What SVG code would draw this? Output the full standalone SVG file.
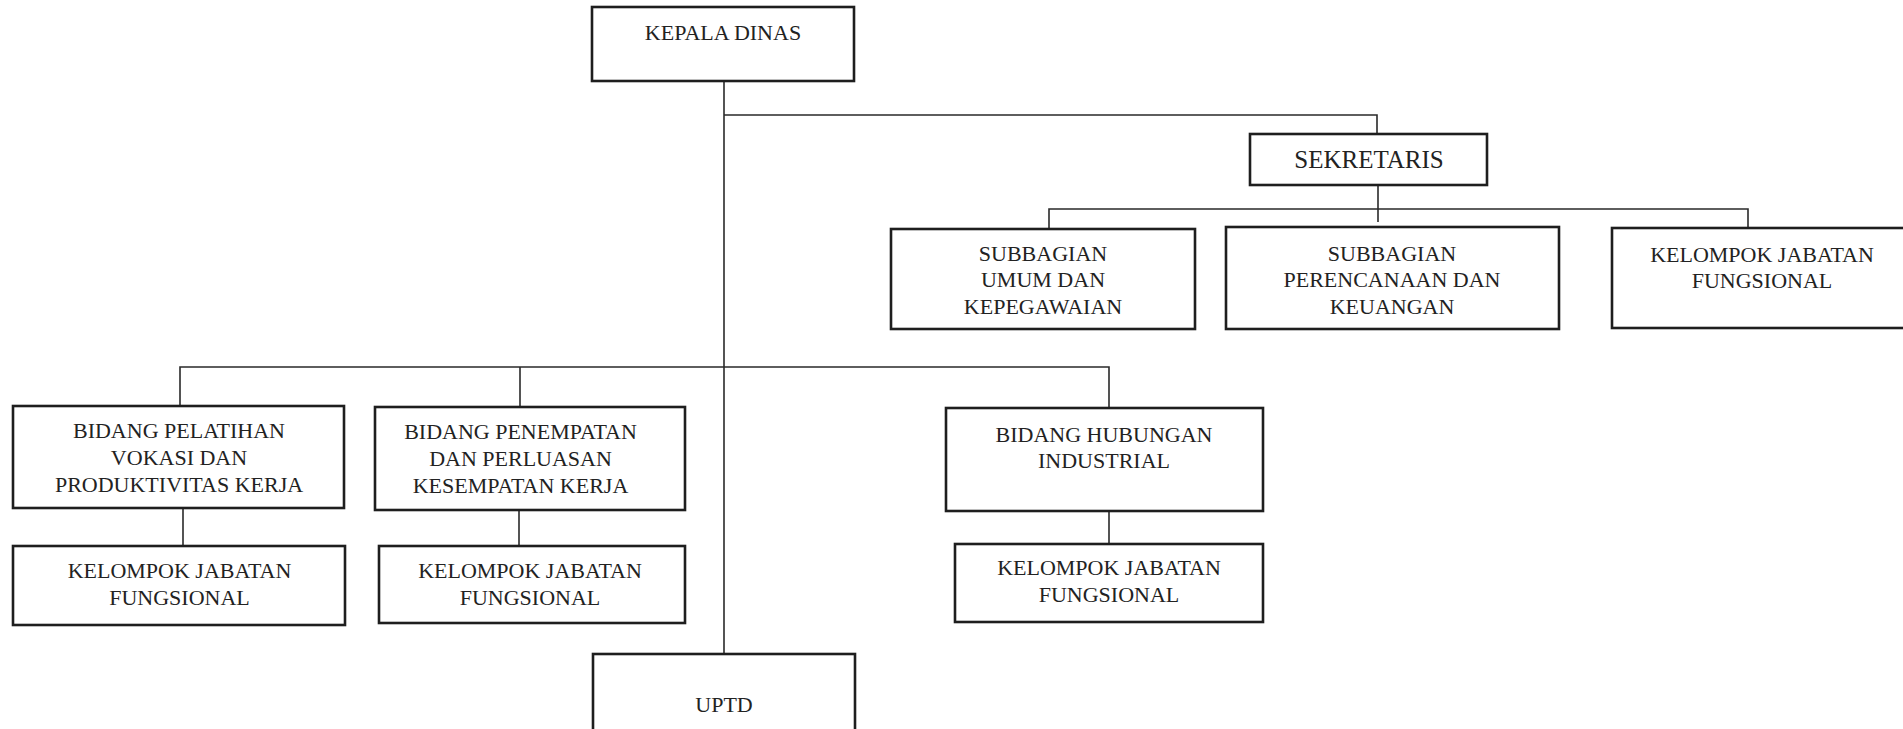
<svg xmlns="http://www.w3.org/2000/svg" width="1903" height="729" viewBox="0 0 1903 729">
<style>
.box{fill:#fff;stroke:#1e1e1e;stroke-width:2.6}
.t{font-family:"Liberation Serif","Times New Roman",serif;font-size:22px;fill:#222;text-anchor:middle}
.big{font-size:25px}
#connectors path{fill:none;stroke:#2a2a2a;stroke-width:1.6}
</style>
<rect width="1903" height="729" fill="#fff"/>
<g id="connectors">
<path d="M724,81V654"/>
<path d="M724,115H1377V134"/>
<path d="M1378,185V222"/>
<path d="M1049,229V209H1748V228"/>
<path d="M180,406V367H1109V408"/>
<path d="M520,367V407"/>
<path d="M183,508V546"/>
<path d="M519,510V546"/>
<path d="M1109,511V544"/>
</g>
<g id="kepala-dinas">
<rect class="box" x="592" y="7" width="262" height="74"/>
<text class="t" x="723" y="40">KEPALA DINAS</text>
</g>
<g id="sekretaris">
<rect class="box" x="1250" y="134" width="237" height="51"/>
<text class="t big" x="1369" y="168">SEKRETARIS</text>
</g>
<g id="subbagian-umum">
<rect class="box" x="891" y="229" width="304" height="100"/>
<text class="t" x="1043" y="261">SUBBAGIAN</text>
<text class="t" x="1043" y="287">UMUM DAN</text>
<text class="t" x="1043" y="314">KEPEGAWAIAN</text>
</g>
<g id="subbagian-perencanaan">
<rect class="box" x="1226" y="227" width="333" height="102"/>
<text class="t" x="1392" y="261">SUBBAGIAN</text>
<text class="t" x="1392" y="287">PERENCANAAN DAN</text>
<text class="t" x="1392" y="314">KEUANGAN</text>
</g>
<g id="kelompok-sekretariat">
<rect class="box" x="1612" y="228" width="300" height="100"/>
<text class="t" x="1762" y="262">KELOMPOK JABATAN</text>
<text class="t" x="1762" y="288">FUNGSIONAL</text>
</g>
<g id="bidang-pelatihan">
<rect class="box" x="13" y="406" width="331" height="102"/>
<text class="t" x="179" y="438">BIDANG PELATIHAN</text>
<text class="t" x="179" y="465">VOKASI DAN</text>
<text class="t" x="179" y="492">PRODUKTIVITAS KERJA</text>
</g>
<g id="kelompok-pelatihan">
<rect class="box" x="13" y="546" width="332" height="79"/>
<text class="t" x="179.5" y="578">KELOMPOK JABATAN</text>
<text class="t" x="179.5" y="605">FUNGSIONAL</text>
</g>
<g id="bidang-penempatan">
<rect class="box" x="375" y="407" width="310" height="103"/>
<text class="t" x="520.5" y="439">BIDANG PENEMPATAN</text>
<text class="t" x="520.5" y="466">DAN PERLUASAN</text>
<text class="t" x="520.5" y="493">KESEMPATAN KERJA</text>
</g>
<g id="kelompok-penempatan">
<rect class="box" x="379" y="546" width="306" height="77"/>
<text class="t" x="530" y="578">KELOMPOK JABATAN</text>
<text class="t" x="530" y="605">FUNGSIONAL</text>
</g>
<g id="bidang-hubungan">
<rect class="box" x="946" y="408" width="317" height="103"/>
<text class="t" x="1104" y="442">BIDANG HUBUNGAN</text>
<text class="t" x="1104" y="468">INDUSTRIAL</text>
</g>
<g id="kelompok-hubungan">
<rect class="box" x="955" y="544" width="308" height="78"/>
<text class="t" x="1109" y="575">KELOMPOK JABATAN</text>
<text class="t" x="1109" y="602">FUNGSIONAL</text>
</g>
<g id="uptd">
<rect class="box" x="593" y="654" width="262" height="100"/>
<text class="t" x="724" y="712">UPTD</text>
</g>
</svg>
